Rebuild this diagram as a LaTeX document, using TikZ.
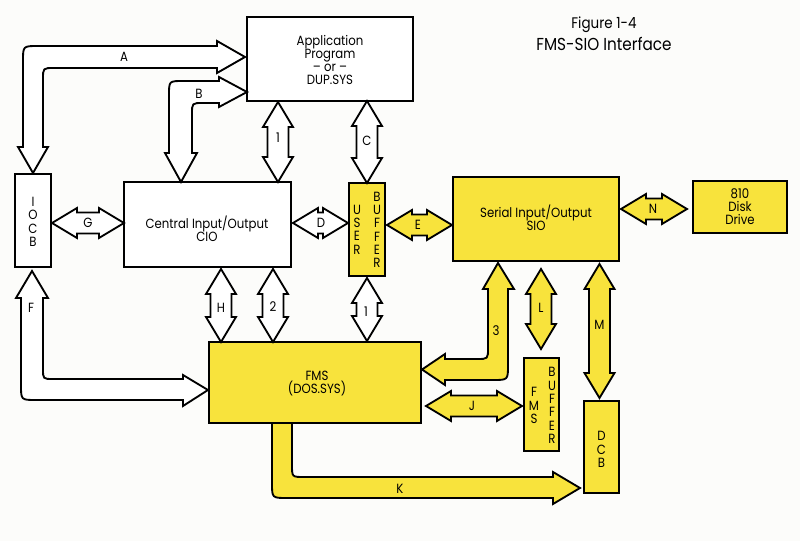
\documentclass[tikz,border=0pt]{standalone}
\usepackage{fontspec}
\setmainfont{Poppins}[FakeStretch=0.88]
\definecolor{fy}{RGB}{248,227,60}
\definecolor{bg}{RGB}{252,252,250}
\newcommand\vdarr[4]{\filldraw[arr,fill=#4] (#1,#2) -- ++(15,25) -- ++(-4.5,0) -- (#1+10.5,#3-25) -- ++(4.5,0) -- (#1,#3) -- ++(-15,-25) -- ++(4.5,0) -- (#1-10.5,#2+25) -- ++(-4.5,0) -- cycle;}
\newcommand\hdarr[4]{\filldraw[arr,fill=#4] (#2,#1) -- ++(25,-15) -- ++(0,4.5) -- (#3-25,#1-10.5) -- ++(0,-4.5) -- (#3,#1) -- ++(-25,15) -- ++(0,-4.5) -- (#2+25,#1+10.5) -- ++(0,4.5) -- cycle;}
\begin{document}
\begin{tikzpicture}[x=0.75pt,y=-0.75pt,
  boxw/.style={draw, line width=1.4pt, fill=white, inner sep=0pt},
  boxy/.style={boxw, fill=fy},
  arr/.style={draw, line width=1.4pt, line join=miter},
  txt/.style={font=\fontsize{10}{9.75}\selectfont, align=center, inner sep=0pt},
  col/.style={font=\fontsize{10}{10}\selectfont, align=center, inner sep=0pt},
  lab/.style={font=\fontsize{10}{10}\selectfont, inner sep=0pt}]
\fill[bg] (0,0) rectangle (800,541);
\useasboundingbox (0,0) rectangle (800,541);
% boxes
\node[boxw, minimum width=124.5pt, minimum height=63pt] (app) at (330,59) {};
\node[boxw, minimum width=27pt, minimum height=69.75pt] (iocb) at (33,220.5) {};
\node[boxw, minimum width=125.25pt, minimum height=63.75pt] (cio) at (207.5,224.5) {};
\node[boxy, minimum width=27pt, minimum height=69.75pt] (ubuf) at (367,229.5) {};
\node[boxy, minimum width=124.5pt, minimum height=63pt] (sio) at (536,219) {};
\node[boxy, minimum width=70.5pt, minimum height=39pt] (disk) at (740,207) {};
\node[boxy, minimum width=159pt, minimum height=60.75pt] (fms) at (315,382.5) {};
\node[boxy, minimum width=26.25pt, minimum height=69.75pt] (fbuf) at (541.5,404.5) {};
\node[boxy, minimum width=26.25pt, minimum height=69pt] (dcb) at (601.5,447) {};
% box texts
\node[txt] (tapp) at (330,60) {Application\\Program\\-- or --\\DUP.SYS};
\node[col] (tiocb) at (33,222) {I\\O\\C\\B};
\node[txt] (tcio) at (207,229) {Central Input/Output\\CIO};
\node[col] (tuser) at (357,229.5) {U\\S\\E\\R};
\node[col] (tubuf) at (377,230) {B\\U\\F\\F\\E\\R};
\node[txt] (tsio) at (536,218) {Serial Input/Output\\SIO};
\node[txt] (tdisk) at (740,207) {810\\Disk\\Drive};
\node[txt] (tfms) at (317,384) {FMS\\(DOS.SYS)};
\node[col] (tffms) at (534,405.5) {F\\M\\S};
\node[col] (tfbuf) at (552,405.5) {B\\U\\F\\F\\E\\R};
\node[col] (tdcb) at (601.5,449.5) {D\\C\\B};
% title
\node[font=\fontsize{11.5}{12}\selectfont, inner sep=0pt] (fig) at (604,25) {Figure 1-4};
\node[font=\fontsize{13}{14}\selectfont, inner sep=0pt] (ttl) at (604,44) {FMS-SIO Interface};
% bent arrows
\filldraw[arr, fill=white] (33,173) -- (48,147) -- (43,147) -- (43,79) .. controls (43,68) .. (54,68) -- (217,68) -- (217,73) -- (245,57) -- (217,41) -- (217,46) -- (38,46) .. controls (23,46) .. (23,61) -- (23,147) -- (18,147) -- cycle;
\filldraw[arr, fill=white] (181,182) -- (197,153) -- (192,153) -- (192,114) .. controls (192,103) .. (203,103) -- (219,103) -- (219,107) -- (247,92) -- (219,77) -- (219,81) -- (183,81) .. controls (169,81) .. (169,95) -- (169,153) -- (165,153) -- cycle;
\filldraw[arr, fill=white] (32,271) -- (48,298) -- (43,298) -- (43,369) .. controls (43,379) .. (53,379) -- (183,379) -- (183,375) -- (208,390) -- (183,406) -- (183,400) -- (36,400) .. controls (21,400) .. (21,385) -- (21,298) -- (16,298) -- cycle;
\filldraw[arr, fill=fy] (498,263) -- (514,289) -- (508,289) -- (508,365) .. controls (508,380) .. (493,380) -- (445,380) -- (445,385) -- (422,369.5) -- (445,354) -- (445,359) -- (477,359) .. controls (488,359) .. (488,348) -- (488,289) -- (483,289) -- cycle;
\filldraw[arr, fill=fy] (272,423) -- (272,483) .. controls (272,498) .. (287,498) -- (553,498) -- (553,504) -- (580,488) -- (553,472) -- (553,477) -- (304,477) .. controls (292,477) .. (292,465) -- (292,423) -- cycle;
% straight double arrows
\vdarr{278}{102}{182}{white}
\vdarr{367}{101}{183}{white}
\vdarr{221}{269}{342}{white}
\vdarr{273}{269}{342}{white}
\vdarr{367}{278}{341}{white}
\vdarr{541}{269}{349}{fy}
\vdarr{599.5}{264}{398}{fy}
\hdarr{223}{52}{124}{white}
\hdarr{223}{293}{348}{white}
\hdarr{225}{387}{452}{fy}
\hdarr{209}{621}{687}{fy}
\hdarr{406}{426}{522}{fy}
% labels
\node[lab] (la) at (124,57) {A};
\node[lab] (lb) at (199,94) {B};
\node[lab] (l1) at (278,138) {1};
\node[lab] (lc) at (367,141) {C};
\node[lab] (lg) at (88,223) {G};
\node[lab] (ld) at (321,223) {D};
\node[lab] (le) at (418,225) {E};
\node[lab] (ln) at (653,209) {N};
\node[lab] (lf) at (31,308) {F};
\node[lab] (lh) at (221,308) {H};
\node[lab] (l2) at (273,307) {2};
\node[lab] (li) at (366,312) {1};
\node[lab] (l3) at (496,331) {3};
\node[lab] (ll) at (541,308) {L};
\node[lab] (lm) at (599.5,325) {M};
\node[lab] (lj) at (472,406) {J};
\node[lab] (lk) at (400,489) {K};
\end{tikzpicture}
\end{document}
